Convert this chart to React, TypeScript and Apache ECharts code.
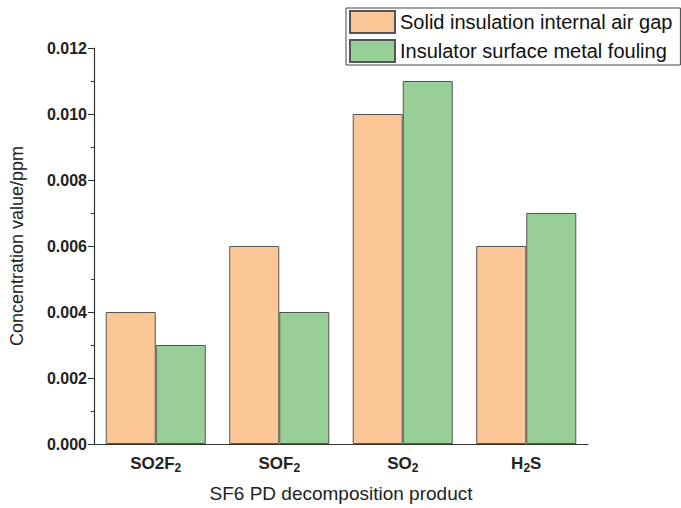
import React, { useEffect, useRef } from "react";
import * as echarts from "echarts";

// SF6 partial-discharge decomposition products
const categories = ["SO2F2", "SOF2", "SO2", "H2S"];
// rich-text labels with subscripts for each product
const categoryLabels = [
  "{b|SO2F}{s|2}",
  "{b|SOF}{s|2}",
  "{b|SO}{s|2}",
  "{b|H}{s|2}{b|S}",
];
const airGapValues = [0.004, 0.006, 0.01, 0.006];
const foulingValues = [0.003, 0.004, 0.011, 0.007];
const seriesNames = [
  "Solid insulation internal air gap",
  "Insulator surface metal fouling",
];
const yTicks = { min: 0, max: 0.012, interval: 0.002 };

const FONT = "'Liberation Sans', Arial, Helvetica, sans-serif";

export default function App() {
  const ref = useRef<HTMLDivElement>(null);

  useEffect(() => {
    if (!ref.current) return;
    const chart = echarts.init(ref.current, undefined, { renderer: "svg" });
    const axisColor = "#333";
    chart.setOption({
      animation: false,
      backgroundColor: "#fff",
      textStyle: { fontFamily: FONT },
      grid: { left: 92, right: 93, top: 48, bottom: 62, containLabel: false },
      legend: {
        orient: "vertical",
        left: 346,
        top: 8,
        icon: "rect",
        itemWidth: 45,
        itemHeight: 22,
        itemGap: 5,
        padding: [2, 8, 2, 3],
        borderColor: "#444",
        borderWidth: 1,
        textStyle: { fontSize: 20, color: "#111", fontFamily: FONT },
        data: seriesNames,
      },
      xAxis: [
        {
          type: "category",
          data: categories,
          position: "bottom",
          name: "SF6 PD decomposition product",
          nameLocation: "middle",
          nameGap: 40,
          nameTextStyle: { fontSize: 19, color: "#222", fontFamily: FONT },
          axisLine: { lineStyle: { color: axisColor, width: 1.2 } },
          axisTick: { alignWithLabel: true, length: 7, lineStyle: { color: axisColor } },
          axisLabel: {
            margin: 9,
            formatter: (_v: string, i: number) => categoryLabels[i],
            rich: {
              b: { fontSize: 17, fontWeight: "bold", color: "#222", fontFamily: FONT, lineHeight: 20 },
              s: {
                fontSize: 12,
                fontWeight: "bold",
                color: "#222",
                fontFamily: FONT,
                lineHeight: 20,
                padding: [9, 0, 0, 0],
              },
            },
          },
        },
        {
          // boundary ticks between categories
          type: "category",
          data: categories,
          position: "bottom",
          axisLine: { show: false },
          axisTick: { alignWithLabel: false, length: 4, lineStyle: { color: axisColor } },
          axisLabel: { show: false },
        },
      ],
      yAxis: {
        type: "value",
        min: yTicks.min,
        max: yTicks.max,
        interval: yTicks.interval,
        name: "Concentration value/ppm",
        nameLocation: "middle",
        nameGap: 68,
        nameTextStyle: { fontSize: 18, color: "#222", fontFamily: FONT },
        axisLine: { show: true, lineStyle: { color: axisColor, width: 1.2 } },
        axisTick: { show: true, length: 6, lineStyle: { color: axisColor } },
        minorTick: { show: true, splitNumber: 2, length: 3, lineStyle: { color: axisColor } },
        splitLine: { show: false },
        axisLabel: {
          fontSize: 16,
          fontWeight: "bold",
          color: "#222",
          margin: 7,
          formatter: (v: number) => v.toFixed(3),
        },
      },
      series: [
        {
          name: seriesNames[0],
          type: "bar",
          data: airGapValues,
          barGap: "0%",
          barCategoryGap: "19%",
          itemStyle: { color: "#FBC796", borderColor: "#555", borderWidth: 1 },
        },
        {
          name: seriesNames[1],
          type: "bar",
          data: foulingValues,
          barGap: "0%",
          barCategoryGap: "19%",
          itemStyle: { color: "#98CF96", borderColor: "#555", borderWidth: 1 },
        },
      ],
    });
    return () => chart.dispose();
  }, []);

  return (
    <div
      ref={ref}
      style={{ position: "absolute", left: 0, top: 0, width: 681, height: 508 }}
    />
  );
}
